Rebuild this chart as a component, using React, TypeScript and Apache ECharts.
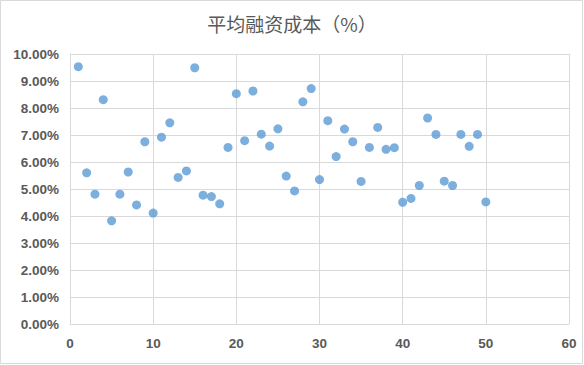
import React, { useEffect, useRef } from "react";
import * as echarts from "echarts";

const titleText = "平均融资成本（%）";
const xValues = [
  1, 2, 3, 4, 5, 6, 7, 8, 9, 10,
  11, 12, 13, 14, 15, 16, 17, 18, 19, 20,
  21, 22, 23, 24, 25, 26, 27, 28, 29, 30,
  31, 32, 33, 34, 35, 36, 37, 38, 39, 40,
  41, 42, 43, 44, 45, 46, 47, 48, 49, 50,
];
const yValues = [
  9.53, 5.6, 4.81, 8.31, 3.82, 4.81, 5.63, 4.41, 6.75, 4.11,
  6.92, 7.45, 5.43, 5.67, 9.49, 4.77, 4.72, 4.45, 6.54, 8.53,
  6.79, 8.63, 7.03, 6.59, 7.23, 5.48, 4.93, 8.23, 8.72, 5.35,
  7.53, 6.2, 7.22, 6.75, 5.28, 6.54, 7.28, 6.47, 6.53, 4.51,
  4.65, 5.13, 7.63, 7.02, 5.29, 5.13, 7.02, 6.58, 7.02, 4.52,
];

export default function App() {
  const ref = useRef<HTMLDivElement>(null);
  useEffect(() => {
    if (!ref.current) return;
    const chart = echarts.init(ref.current, null, { renderer: "svg" });
    const labelStyle = {
      color: "#595959",
      fontSize: 13.5,
      fontWeight: "bold" as const,
      fontFamily: "Liberation Sans, Arial, sans-serif",
    };
    chart.setOption({
      animation: false,
      backgroundColor: "#ffffff",
      title: {
        text: titleText,
        left: "center",
        top: 9,
        textStyle: {
          color: "#595959",
          fontSize: 19,
          fontWeight: "normal",
          fontFamily: "Noto Sans CJK SC, sans-serif",
        },
      },
      graphic: [
        {
          type: "rect",
          shape: { x: 0.5, y: 0.5, width: 582, height: 363 },
          style: { fill: "none", stroke: "#d9d9d9", lineWidth: 1 },
          silent: true,
        },
      ],
      grid: { left: 70, right: 15, top: 54, bottom: 41, containLabel: false },
      xAxis: {
        type: "value",
        min: 0,
        max: 60,
        interval: 10,
        axisLine: { show: true, lineStyle: { color: "#d9d9d9" } },
        axisTick: { show: false },
        splitLine: { show: true, lineStyle: { color: "#d9d9d9" } },
        axisLabel: { ...labelStyle, margin: 12 },
      },
      yAxis: {
        type: "value",
        min: 0,
        max: 10,
        interval: 1,
        axisLine: { show: true, lineStyle: { color: "#d9d9d9" } },
        axisTick: { show: false },
        splitLine: { show: true, lineStyle: { color: "#d9d9d9" } },
        axisLabel: {
          ...labelStyle,
          margin: 11,
          formatter: (v: number) => v.toFixed(2) + "%",
        },
      },
      series: [
        {
          type: "scatter",
          data: xValues.map((x, i) => [x, yValues[i]]),
          symbol: "circle",
          symbolSize: 9,
          itemStyle: { color: "#5B9BD5" },
        },
      ],
    });
    return () => chart.dispose();
  }, []);
  return (
    <div
      ref={ref}
      style={{ position: "fixed", left: 0, top: 0, width: 584, height: 365 }}
    />
  );
}
